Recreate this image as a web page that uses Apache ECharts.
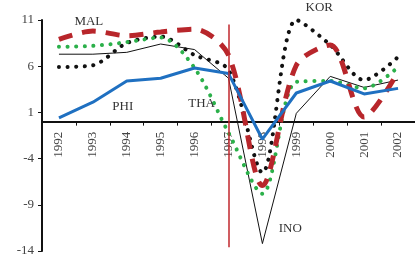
<!DOCTYPE html>
<html>
<head>
<meta charset="utf-8">
<script src="https://cdn.jsdelivr.net/npm/echarts@6/dist/echarts.min.js"></script>
<style>
  html, body { margin: 0; padding: 0; background: #fff; }
  #main1 { width: 415px; height: 259px; }
</style>
</head>
<body>
<div id="main1"></div>
<script>
  // years on the x axis
  var years = ['1992','1993','1994','1995','1996','1997','1998','1999','2000','2001','2002'];
  var yTicks = [-14, -9, -4, 1, 6, 11];

  // growth values
  var ino = [7.3, 7.3, 7.5, 8.4, 7.8, 4.7, -13.2, 0.9, 4.9, 3.7, 4.5];
  var kor = [5.9, 6.1, 8.5, 9.2, 7.2, 5.6, -5.5, 11.0, 8.3, 4.5, 7.0];
  var tha = [8.1, 8.2, 8.6, 9.1, 5.8, -1.2, -7.8, 4.3, 4.4, 3.6, 5.9];
  var mal = [8.9, 9.8, 9.3, 9.7, 10.0, 7.2, -6.9, 6.1, 8.3, 0.5, 5.4];
  var phi = [0.4, 2.1, 4.4, 4.7, 5.8, 5.2, -1.9, 3.1, 4.4, 3.0, 3.6];

  var serif = 'Liberation Serif';

  var gridTop = 20, gridBottom = 8;
  var plotH = 259 - gridTop - gridBottom;
  var yMin = yTicks[0], yMax = yTicks[yTicks.length - 1];
  // lift the category axis up to the zero line (labels and ticks with it)
  var zeroOffset = -plotH * (0 - yMin) / (yMax - yMin);

  var myChart = echarts.init(document.getElementById('main1'));

  // series name written next to its line
  function tag(txt, x, y, dx, dy) {
    return { coord: [x, y], value: txt, label: { offset: [dx || 0, dy || 0] } };
  }

  var tagLabel = { show: true, formatter: '{c}', color: '#333', fontFamily: serif, fontSize: 13 };

  myChart.setOption({
    animation: false,
    grid: { left: 42, right: 0, top: gridTop, bottom: gridBottom, containLabel: false, outerBoundsMode: 'none' },
    xAxis: {
      type: 'category',
      data: years,
      boundaryGap: true,
      offset: zeroOffset,
      axisLine: { onZero: false, lineStyle: { color: '#111', width: 2 } },
      axisTick: { show: true, length: 4, lineStyle: { color: '#111', width: 1 } },
      axisLabel: { rotate: 90, margin: 10, color: '#444', fontFamily: serif, fontSize: 13 },
      splitLine: { show: false }
    },
    yAxis: {
      type: 'value',
      min: yMin,
      max: yMax,
      interval: 5,
      axisLine: { show: true, lineStyle: { color: '#111', width: 2 } },
      axisTick: { show: true, length: 4, lineStyle: { color: '#111' } },
      axisLabel: { color: '#444', fontFamily: serif, fontSize: 13, margin: 8 },
      splitLine: { show: false }
    },
    series: [
      {
        name: 'INO', type: 'line', data: ino, symbol: 'none',
        lineStyle: { color: '#111', width: 1 },
        markPoint: { symbolSize: 0, label: tagLabel, data: [tag('INO', '1999', -11.6, -6)] }
      },
      {
        name: 'KOR', type: 'line', data: kor, symbol: 'none', smooth: 0.3,
        lineStyle: { color: '#111', width: 4, type: [0.1, 8.5], cap: 'round' },
        // sits above the plot top, so anchor at the top and push up
        markPoint: { symbolSize: 0, label: tagLabel, data: [tag('KOR', '2000', 10.9, -11, -13)] }
      },
      {
        name: 'THA', type: 'line', data: tha, symbol: 'none', smooth: 0.3,
        lineStyle: { color: '#2bb04a', width: 4, type: [0.1, 8.5], cap: 'round' },
        markPoint: { symbolSize: 0, label: tagLabel, data: [tag('THA', '1996', 2.0, 7)] }
      },
      {
        name: 'MAL', type: 'line', data: mal, symbol: 'none', smooth: 0.3,
        lineStyle: { color: '#b8262b', width: 5, type: [14, 10], cap: 'butt' },
        markPoint: { symbolSize: 0, label: tagLabel, data: [tag('MAL', '1993', 10.8, -4)] }
      },
      {
        name: 'PHI', type: 'line', data: phi, symbol: 'none',
        lineStyle: { color: '#1f70c1', width: 3 },
        markPoint: { symbolSize: 0, label: tagLabel, data: [tag('PHI', '1994', 1.6, -4)] },
        // crisis marker at 1997
        markLine: {
          symbol: 'none',
          silent: true,
          label: { show: false },
          lineStyle: { color: '#c0272d', width: 1.5, type: 'solid' },
          data: [[{ coord: ['1997', 10.5] }, { coord: ['1997', -13.6] }]]
        }
      }
    ]
  });
</script>
</body>
</html>
